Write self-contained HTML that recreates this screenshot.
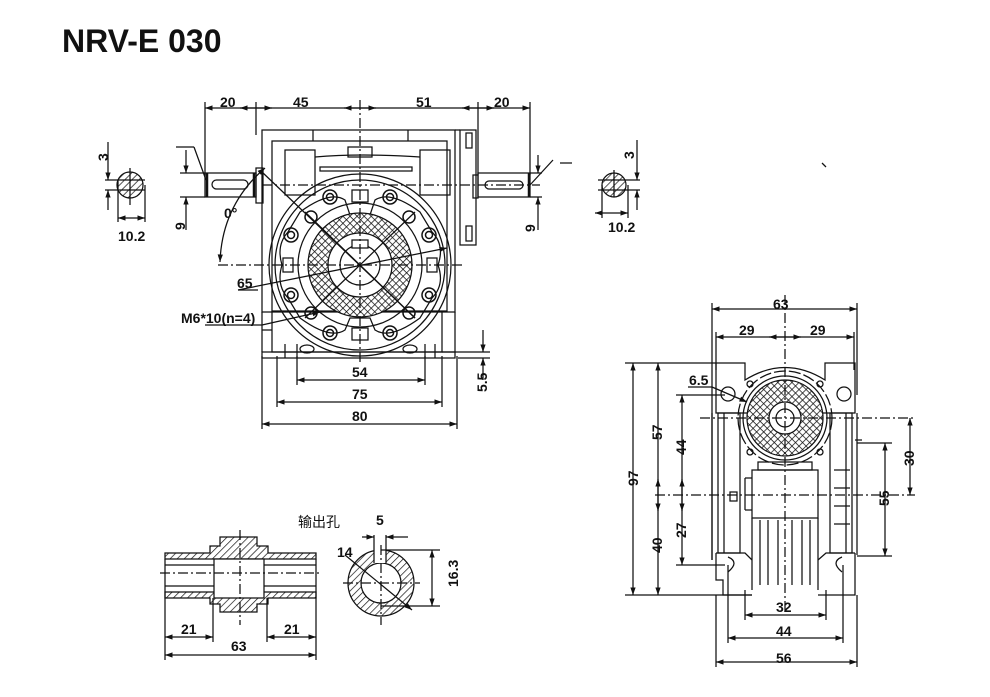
<!DOCTYPE html>
<html><head><meta charset="utf-8"><style>
html,body{margin:0;padding:0;background:#fff;}
svg{display:block;}
text{font-family:"Liberation Sans","Noto Sans CJK SC",sans-serif;font-weight:bold;font-size:14px;fill:#111;}
</style></head><body>
<svg width="990" height="697" viewBox="0 0 990 697" xmlns="http://www.w3.org/2000/svg">
<defs>
<pattern id="hx" width="5" height="5" patternUnits="userSpaceOnUse" patternTransform="rotate(45)">
<rect width="5" height="5" fill="#fff"/><line x1="0" y1="0" x2="0" y2="5" stroke="#111" stroke-width="1.5"/><line x1="0" y1="0" x2="5" y2="0" stroke="#111" stroke-width="1.5"/></pattern>
<pattern id="hl" width="5" height="5" patternUnits="userSpaceOnUse" patternTransform="rotate(45)">
<rect width="5" height="5" fill="#fff"/><line x1="0" y1="0" x2="0" y2="5" stroke="#111" stroke-width="1.4"/></pattern>
<marker id="a" viewBox="0 0 10 10" refX="10" refY="5" markerWidth="8" markerHeight="6" orient="auto-start-reverse"><path d="M0,1.5 L10,5 L0,8.5z" fill="#111"/></marker>
</defs>
<text x="62" y="52" style="font-size:32px">NRV-E 030</text>

<g stroke="#111" stroke-width="1.25" fill="none">
<!-- ===== FRONT VIEW ===== -->
<line x1="205" y1="108" x2="530" y2="108" marker-start="url(#a)" marker-end="url(#a)"/>
<line x1="256" y1="108" x2="240" y2="108" marker-end="url(#a)"/>
<line x1="256" y1="108" x2="272" y2="108" marker-end="url(#a)"/>
<line x1="360" y1="108" x2="344" y2="108" marker-end="url(#a)"/>
<line x1="360" y1="108" x2="376" y2="108" marker-end="url(#a)"/>
<line x1="478" y1="108" x2="462" y2="108" marker-end="url(#a)"/>
<line x1="478" y1="108" x2="494" y2="108" marker-end="url(#a)"/>
<line x1="205" y1="102" x2="205" y2="175"/>
<line x1="256" y1="102" x2="256" y2="135"/>
<line x1="478" y1="102" x2="478" y2="175"/>
<line x1="530" y1="102" x2="530" y2="175"/>
<rect x="262" y="130" width="193" height="182"/>
<rect x="272" y="141" width="175" height="170"/>
<line x1="313" y1="130" x2="313" y2="141"/><line x1="408" y1="130" x2="408" y2="141"/>
<rect x="285" y="150" width="30" height="45"/><rect x="420" y="150" width="30" height="45"/>
<path d="M315 157 Q360 153 420 157"/>
<rect x="348" y="147" width="24" height="10"/>
<rect x="320" y="167" width="92" height="4"/>
<rect x="460" y="130" width="16" height="115"/>
<line x1="455" y1="130" x2="460" y2="130"/>
<rect x="466" y="133" width="6" height="15"/><rect x="466" y="226" width="6" height="15"/>
<rect x="473" y="175" width="5" height="23"/>
<path d="M272 311 L272 352 L442 352 L442 311"/>
<path d="M262 312 L262 352 M262 330 L272 330 M455 312 L455 352 L442 352"/>
<rect x="262" y="352" width="193" height="6"/>
<line x1="285" y1="344" x2="285" y2="358"/><line x1="297" y1="344" x2="297" y2="358"/>
<line x1="425" y1="344" x2="425" y2="358"/><line x1="435" y1="344" x2="435" y2="358"/>
<ellipse cx="307" cy="349" rx="7" ry="4"/><ellipse cx="410" cy="349" rx="7" ry="4"/>
<rect x="205" y="173" width="51" height="24"/>
<line x1="207" y1="173" x2="207" y2="197" stroke-width="2.5"/>
<line x1="254" y1="173" x2="254" y2="197" stroke-width="2.5"/>
<rect x="212" y="180" width="36" height="9" rx="4.5"/>
<rect x="256" y="168" width="7" height="35"/>
<rect x="478" y="173" width="52" height="24"/>
<line x1="529" y1="173" x2="529" y2="197" stroke-width="2.5"/>
<rect x="485" y="181" width="38" height="8" rx="4"/>
<circle cx="360" cy="265" r="91"/>
<circle cx="360" cy="265" r="85"/>
<path d="M300 212 Q330 190 345 200 L350 215 L370 215 L375 200 Q390 190 420 212 L432 232 Q445 245 438 265 Q445 285 432 298 L420 318 Q390 340 375 330 L370 318 L350 318 L345 330 Q330 340 300 318 L288 298 Q276 285 282 265 Q276 245 288 232 Z"/>
<circle cx="360" cy="265" r="62"/>
<circle cx="360" cy="265" r="52" fill="url(#hx)"/>
<circle cx="360" cy="265" r="32" fill="#fff"/>
<circle cx="360" cy="265" r="20"/>
<rect x="352" y="240" width="16" height="8" fill="#fff"/>
<rect x="352" y="190" width="16" height="12"/><rect x="352" y="328" width="16" height="12"/>
<rect x="283" y="258" width="10" height="14"/><rect x="427" y="258" width="10" height="14"/>
<g stroke-width="1.5">
<circle cx="291" cy="235" r="7"/><circle cx="291" cy="235" r="3.5"/>
<circle cx="429" cy="235" r="7"/><circle cx="429" cy="235" r="3.5"/>
<circle cx="291" cy="295" r="7"/><circle cx="291" cy="295" r="3.5"/>
<circle cx="429" cy="295" r="7"/><circle cx="429" cy="295" r="3.5"/>
<circle cx="330" cy="197" r="7"/><circle cx="330" cy="197" r="3.5"/>
<circle cx="390" cy="197" r="7"/><circle cx="390" cy="197" r="3.5"/>
<circle cx="330" cy="333" r="7"/><circle cx="330" cy="333" r="3.5"/>
<circle cx="390" cy="333" r="7"/><circle cx="390" cy="333" r="3.5"/>
<circle cx="311" cy="217" r="6"/><circle cx="409" cy="217" r="6"/>
<circle cx="311" cy="313" r="6"/><circle cx="409" cy="313" r="6"/>
</g>
<line x1="360" y1="100" x2="360" y2="365" stroke-dasharray="10,3,2,3"/>
<line x1="218" y1="265" x2="465" y2="265" stroke-dasharray="10,3,2,3"/>
<line x1="262" y1="185" x2="540" y2="185" stroke-dasharray="10,3,2,3"/>
<line x1="262" y1="172" x2="415" y2="318"/>
<line x1="305" y1="212" x2="415" y2="318"/>
<line x1="415" y1="212" x2="305" y2="318"/>
<path d="M265 168 Q222 205 220 262" marker-start="url(#a)" marker-end="url(#a)"/>
<line x1="238" y1="290" x2="447" y2="248" marker-end="url(#a)"/>
<line x1="238" y1="290" x2="258" y2="290"/>
<line x1="205" y1="325" x2="262" y2="325"/>
<line x1="262" y1="325" x2="320" y2="312" marker-end="url(#a)"/>
<line x1="297" y1="356" x2="297" y2="385"/><line x1="425" y1="356" x2="425" y2="385"/>
<line x1="277" y1="356" x2="277" y2="407"/><line x1="442" y1="356" x2="442" y2="407"/>
<line x1="262" y1="356" x2="262" y2="429"/><line x1="457" y1="356" x2="457" y2="429"/>
<line x1="297" y1="380" x2="425" y2="380" marker-start="url(#a)" marker-end="url(#a)"/>
<line x1="277" y1="402" x2="442" y2="402" marker-start="url(#a)" marker-end="url(#a)"/>
<line x1="262" y1="424" x2="457" y2="424" marker-start="url(#a)" marker-end="url(#a)"/>
<line x1="455" y1="352" x2="490" y2="352"/><line x1="458" y1="358" x2="490" y2="358"/>
<line x1="483" y1="330" x2="483" y2="352" marker-end="url(#a)"/>
<line x1="483" y1="380" x2="483" y2="358" marker-end="url(#a)"/>
<line x1="180" y1="173" x2="205" y2="173"/><line x1="180" y1="197" x2="205" y2="197"/>
<line x1="186" y1="150" x2="186" y2="173" marker-end="url(#a)"/>
<line x1="186" y1="230" x2="186" y2="197" marker-end="url(#a)"/>
<line x1="176" y1="147" x2="194" y2="147"/><line x1="194" y1="147" x2="206" y2="180"/>
<line x1="530" y1="173" x2="542" y2="173"/><line x1="530" y1="197" x2="542" y2="197"/>
<line x1="538" y1="155" x2="538" y2="173" marker-end="url(#a)"/>
<line x1="538" y1="230" x2="538" y2="197" marker-end="url(#a)"/>
<line x1="530" y1="185" x2="553" y2="160"/>
<line x1="822" y1="163" x2="826" y2="167"/>

<circle cx="130" cy="185" r="13" fill="url(#hl)"/>
<line x1="105" y1="180" x2="145" y2="180"/><line x1="105" y1="190" x2="145" y2="190"/>
<line x1="130" y1="168" x2="130" y2="205"/>
<line x1="108" y1="142" x2="108" y2="180" marker-end="url(#a)"/>
<line x1="108" y1="210" x2="108" y2="190" marker-end="url(#a)"/>
<line x1="118" y1="180" x2="118" y2="222"/><line x1="145" y1="185" x2="145" y2="222"/>
<line x1="118" y1="218" x2="145" y2="218" marker-start="url(#a)" marker-end="url(#a)"/>
<circle cx="614" cy="185" r="12" fill="url(#hl)"/>
<line x1="598" y1="180" x2="640" y2="180"/><line x1="598" y1="190" x2="640" y2="190"/>
<line x1="614" y1="170" x2="614" y2="197"/>
<line x1="637" y1="140" x2="637" y2="180" marker-end="url(#a)"/>
<line x1="637" y1="210" x2="637" y2="190" marker-end="url(#a)"/>
<line x1="602" y1="185" x2="602" y2="218"/><line x1="628" y1="185" x2="628" y2="218"/>
<line x1="595" y1="213" x2="628" y2="213" marker-start="url(#a)" marker-end="url(#a)"/>
<line x1="560" y1="163" x2="572" y2="163"/>

<!-- SIDE VIEW -->
<line x1="712" y1="303" x2="712" y2="560"/><line x1="857" y1="303" x2="857" y2="395"/>
<line x1="712" y1="309" x2="857" y2="309" marker-start="url(#a)" marker-end="url(#a)"/>
<line x1="716" y1="332" x2="716" y2="370"/><line x1="854" y1="332" x2="854" y2="370"/>
<line x1="716" y1="337" x2="854" y2="337" marker-start="url(#a)" marker-end="url(#a)"/>
<line x1="785" y1="337" x2="769" y2="337" marker-end="url(#a)"/>
<line x1="785" y1="337" x2="801" y2="337" marker-end="url(#a)"/>
<path d="M716 363 L745 363 L745 380 Q785 355 825 380 L825 363 L855 363 L855 413 L716 413 Z"/>
<rect x="718" y="413" width="22" height="140"/><rect x="830" y="413" width="22" height="140"/>
<line x1="724" y1="413" x2="724" y2="553"/><line x1="846" y1="413" x2="846" y2="553"/>
<line x1="712" y1="413" x2="712" y2="560"/>
<line x1="855" y1="440" x2="862" y2="440"/><line x1="857" y1="413" x2="857" y2="555"/>
<line x1="834" y1="470" x2="850" y2="470"/><line x1="834" y1="488" x2="850" y2="488"/>
<line x1="834" y1="506" x2="850" y2="506"/><line x1="834" y1="524" x2="850" y2="524"/>
<circle cx="785" cy="418" r="47" stroke-dasharray="12,3"/>
<circle cx="785" cy="418" r="42"/>
<circle cx="785" cy="418" r="38" fill="url(#hx)"/>
<circle cx="785" cy="418" r="16" fill="#fff"/>
<circle cx="785" cy="418" r="9"/>
<circle cx="750" cy="384" r="3"/><circle cx="820" cy="384" r="3"/>
<circle cx="750" cy="452" r="3"/><circle cx="820" cy="452" r="3"/>
<circle cx="728" cy="394" r="7"/><circle cx="844" cy="394" r="7"/>
<path d="M758 462 L812 462 L812 470 L758 470 Z"/>
<path d="M752 470 L818 470 L818 518 L752 518 Z"/>
<path d="M745 478 L752 478 M745 510 L752 510 M745 478 L745 510"/>
<rect x="730" y="492" width="7" height="9"/>
<line x1="752" y1="518" x2="752" y2="590"/><line x1="818" y1="518" x2="818" y2="590"/>
<line x1="760" y1="520" x2="760" y2="585"/><line x1="768" y1="520" x2="768" y2="585"/>
<line x1="778" y1="520" x2="778" y2="585"/><line x1="792" y1="520" x2="792" y2="585"/>
<line x1="802" y1="520" x2="802" y2="585"/><line x1="810" y1="520" x2="810" y2="585"/>
<path d="M716 553 L745 553 L752 560 M855 553 L826 553 L818 560"/>
<path d="M716 553 L716 580 L723 580 L723 595 L752 595 M855 553 L855 595 L818 595"/>
<path d="M728 557 Q740 562 728 572 M842 557 Q830 562 842 572"/>
<line x1="785" y1="295" x2="785" y2="610" stroke-dasharray="10,3,2,3"/>
<line x1="700" y1="418" x2="915" y2="418" stroke-dasharray="10,3,2,3"/>
<line x1="655" y1="495" x2="915" y2="495" stroke-dasharray="10,3,2,3"/>
<line x1="625" y1="363" x2="716" y2="363"/><line x1="625" y1="595" x2="752" y2="595"/>
<line x1="633" y1="363" x2="633" y2="595" marker-start="url(#a)" marker-end="url(#a)"/>
<line x1="658" y1="363" x2="658" y2="595" marker-start="url(#a)" marker-end="url(#a)"/>
<line x1="658" y1="495" x2="658" y2="479" marker-end="url(#a)"/>
<line x1="658" y1="495" x2="658" y2="511" marker-end="url(#a)"/>
<line x1="682" y1="395" x2="682" y2="565" marker-start="url(#a)" marker-end="url(#a)"/>
<line x1="682" y1="495" x2="682" y2="479" marker-end="url(#a)"/>
<line x1="682" y1="495" x2="682" y2="511" marker-end="url(#a)"/>
<line x1="676" y1="395" x2="725" y2="395"/><line x1="676" y1="565" x2="725" y2="565"/>
<line x1="910" y1="418" x2="910" y2="495" marker-start="url(#a)" marker-end="url(#a)"/>
<line x1="857" y1="443" x2="892" y2="443"/><line x1="857" y1="556" x2="892" y2="556"/>
<line x1="885" y1="443" x2="885" y2="556" marker-start="url(#a)" marker-end="url(#a)"/>
<line x1="688" y1="387" x2="712" y2="387"/>
<line x1="712" y1="387" x2="747" y2="402" marker-end="url(#a)"/>
<line x1="745" y1="590" x2="745" y2="620"/><line x1="826" y1="590" x2="826" y2="620"/>
<line x1="728" y1="565" x2="728" y2="643"/><line x1="843" y1="565" x2="843" y2="643"/>
<line x1="716" y1="595" x2="716" y2="667"/><line x1="857" y1="595" x2="857" y2="667"/>
<line x1="745" y1="615" x2="826" y2="615" marker-start="url(#a)" marker-end="url(#a)"/>
<line x1="728" y1="638" x2="843" y2="638" marker-start="url(#a)" marker-end="url(#a)"/>
<line x1="716" y1="662" x2="857" y2="662" marker-start="url(#a)" marker-end="url(#a)"/>

<!-- HOLLOW SHAFT -->
<path d="M165 553 L210 553 L210 546 L220 546 L220 537 L257 537 L257 546 L268 546 L268 553 L316 553 L316 559 L165 559 Z" fill="url(#hl)"/>
<path d="M165 598 L210 598 L210 604 L220 604 L220 612 L257 612 L257 604 L268 604 L268 598 L316 598 L316 592 L165 592 Z" fill="url(#hl)"/>
<rect x="214" y="559" width="50" height="39" fill="#fff"/>
<line x1="165" y1="565" x2="214" y2="565"/><line x1="264" y1="565" x2="316" y2="565"/>
<line x1="165" y1="586" x2="214" y2="586"/><line x1="264" y1="586" x2="316" y2="586"/>
<line x1="165" y1="559" x2="165" y2="660"/><line x1="316" y1="559" x2="316" y2="660"/>
<line x1="213" y1="598" x2="213" y2="642"/><line x1="267" y1="598" x2="267" y2="642"/>
<line x1="160" y1="573" x2="322" y2="573" stroke-dasharray="10,3,2,3"/>
<line x1="240" y1="530" x2="240" y2="625" stroke-dasharray="10,3,2,3"/>
<line x1="165" y1="637" x2="213" y2="637" marker-start="url(#a)" marker-end="url(#a)"/>
<line x1="267" y1="637" x2="316" y2="637" marker-start="url(#a)" marker-end="url(#a)"/>
<line x1="165" y1="655" x2="316" y2="655" marker-start="url(#a)" marker-end="url(#a)"/>
<circle cx="381" cy="583" r="33" fill="url(#hl)"/>
<circle cx="381" cy="583" r="20" fill="#fff"/>
<rect x="374" y="549" width="12" height="14" fill="#fff" stroke="none"/>
<line x1="374" y1="535" x2="374" y2="563"/><line x1="386" y1="535" x2="386" y2="563"/>
<line x1="362" y1="537" x2="374" y2="537" marker-end="url(#a)"/>
<line x1="408" y1="537" x2="386" y2="537" marker-end="url(#a)"/>
<line x1="343" y1="583" x2="420" y2="583" stroke-dasharray="10,3,2,3"/>
<line x1="381" y1="545" x2="381" y2="625" stroke-dasharray="10,3,2,3"/>
<line x1="345" y1="555" x2="412" y2="610" marker-end="url(#a)"/>
<line x1="381" y1="550" x2="440" y2="550"/><line x1="381" y1="606" x2="440" y2="606"/>
<line x1="432" y1="550" x2="432" y2="606" marker-start="url(#a)" marker-end="url(#a)"/>
</g>

<text x="220" y="107">20</text><text x="293" y="107">45</text>
<text x="416" y="107">51</text><text x="494" y="107">20</text>
<text x="224" y="218">0°</text>
<text x="237" y="288">65</text>
<text x="181" y="323">M6*10(n=4)</text>
<text x="352" y="377">54</text><text x="352" y="399">75</text><text x="352" y="421">80</text>
<text x="0" y="0" transform="translate(487,392) rotate(-90)">5.5</text>
<text x="0" y="0" transform="translate(185,230) rotate(-90)">9</text>
<text x="0" y="0" transform="translate(535,232) rotate(-90)">9</text>
<text x="0" y="0" transform="translate(108,161) rotate(-90)">3</text>
<text x="0" y="0" transform="translate(634,159) rotate(-90)">3</text>
<text x="118" y="241">10.2</text><text x="608" y="232">10.2</text>
<text x="773" y="309">63</text><text x="739" y="335">29</text><text x="810" y="335">29</text>
<text x="689" y="385">6.5</text>
<text x="0" y="0" transform="translate(638,486) rotate(-90)">97</text>
<text x="0" y="0" transform="translate(662,440) rotate(-90)">57</text>
<text x="0" y="0" transform="translate(662,553) rotate(-90)">40</text>
<text x="0" y="0" transform="translate(686,455) rotate(-90)">44</text>
<text x="0" y="0" transform="translate(686,538) rotate(-90)">27</text>
<text x="0" y="0" transform="translate(914,466) rotate(-90)">30</text>
<text x="0" y="0" transform="translate(889,506) rotate(-90)">55</text>
<text x="776" y="612">32</text><text x="776" y="636">44</text><text x="776" y="663">56</text>
<text x="181" y="634">21</text><text x="284" y="634">21</text><text x="231" y="651">63</text>
<text x="298" y="527" style="font-weight:normal;font-size:14px">输出孔</text>
<text x="376" y="525">5</text><text x="337" y="557">14</text>
<text x="0" y="0" transform="translate(458,587) rotate(-90)">16.3</text>
</svg>
</body></html>
